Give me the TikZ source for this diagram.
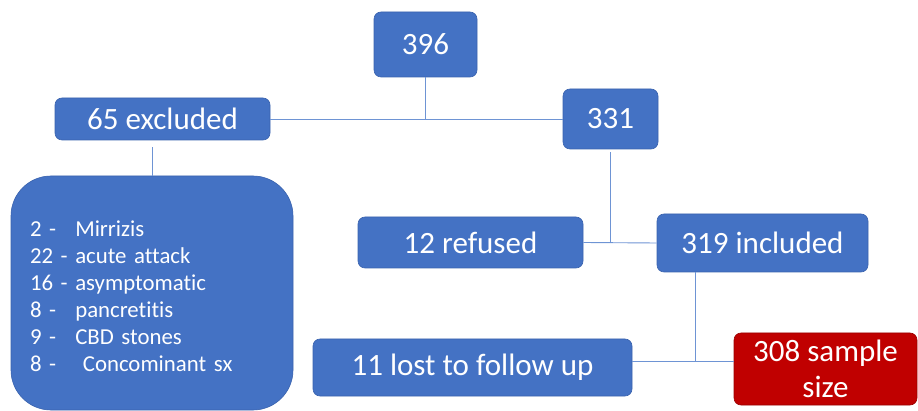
\documentclass[tikz,border=0pt]{standalone}
\usepackage{fontspec}
\setmainfont{Carlito}[Ligatures=NoCommon]
\definecolor{boxblue}{HTML}{4472C4}
\definecolor{boxedge}{HTML}{3A63AE}
\definecolor{linkblue}{HTML}{6E94D4}
\definecolor{boxred}{HTML}{C00000}
\definecolor{rededge}{HTML}{9A0000}
\newcommand{\listnum}[1]{\makebox[0pt][l]{#1}\phantom{22 -\ }}

\begin{document}
\begin{tikzpicture}[x=1pt,y=-1pt,
    stagebox/.style={rectangle,rounded corners=7pt,fill=boxblue,draw=boxedge,line width=0.6pt,
        text=white,inner sep=0pt,align=center,font=\fontsize{31}{36}\selectfont},
    link/.style={draw=linkblue,line width=0.9pt}]
    \useasboundingbox (0,0) rectangle (918,411);
    \node[stagebox,minimum width=103pt,minimum height=65pt] (total) at (425.5,44.5) {396};
    \node[stagebox,minimum width=215pt,minimum height=42pt] (excl) at (162.5,119) {65 excluded};
    \node[stagebox,minimum width=95pt,minimum height=60pt] (remain) at (610.5,119) {331};
    \node[stagebox,rounded corners=40pt,minimum width=282pt,minimum height=234pt,text width=244pt,
        inner xsep=19pt,align=left,font=\fontsize{22.8}{27}\selectfont] (reasons) at (152,293)
        {\rule{0pt}{23pt}\listnum{2 -}Mirrizis\\ \listnum{22 -}acute attack\\ \listnum{16 -}asymptomatic\\
         \listnum{8 -}pancretitis\\ \listnum{9 -}CBD stones\\ \listnum{8 -}\ Concominant sx};
    \node[stagebox,minimum width=225pt,minimum height=51pt] (refused) at (470.5,242.5) {12 refused};
    \node[stagebox,minimum width=211pt,minimum height=58pt] (included) at (762.5,243) {319 included};
    \node[stagebox,minimum width=319pt,minimum height=57pt] (lost) at (472.5,367.5) {11 lost to follow up};
    \node[stagebox,fill=boxred,draw=rededge,minimum width=183pt,minimum height=72pt] (sample) at (825.5,369) {308 sample\\size};
    \coordinate (split) at (695,361);
    % connectors
    \draw[link] (excl.east) -- (remain.west);
    \draw[link] (total.south) -- (total.south |- excl.east);
    \draw[link,shorten >=7pt] (reasons.north) -- (reasons.north |- excl.south);
    \draw[link,shorten <=3pt] (remain.south) -- (remain.south |- refused.east);
    \draw[link] (refused.east) -- (included.west);
    \draw[link] (split |- included.south) -- (split);
    \draw[link] (lost.east |- split) -- (sample.west |- split);
\end{tikzpicture}
\end{document}
